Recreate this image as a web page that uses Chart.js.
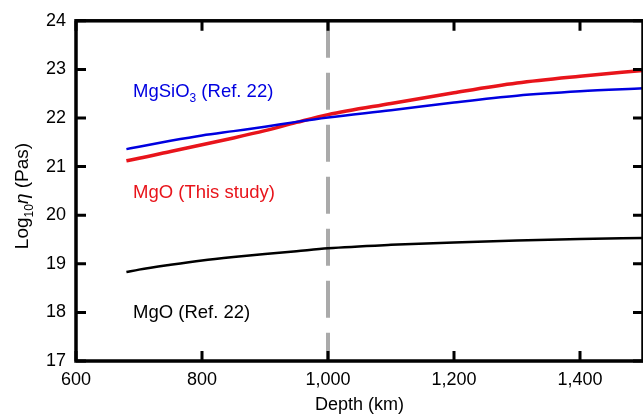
<!DOCTYPE html>
<html>
<head>
<meta charset="utf-8">
<script src="https://cdn.jsdelivr.net/npm/chart.js@4"></script>
<style>
  html, body { margin: 0; padding: 0; background: #fff; }
  canvas { display: block; }
</style>
</head>
<body>
<canvas id="chart" width="643" height="416"></canvas>
<script>
// values
const depth = [680, 700, 750, 800, 850, 900, 950, 1000, 1100, 1200, 1300, 1400, 1500];
const mgsio3Ref22 = [21.36, 21.41, 21.53, 21.64, 21.73, 21.82, 21.92, 22.01, 22.16, 22.32, 22.46, 22.55, 22.61];
const mgoThisStudy = [21.12, 21.17, 21.31, 21.45, 21.59, 21.74, 21.91, 22.07, 22.30, 22.52, 22.72, 22.86, 22.98];
const mgoRef22 = [18.83, 18.88, 18.98, 19.07, 19.14, 19.20, 19.26, 19.32, 19.39, 19.44, 19.48, 19.51, 19.53];
const xTicks = [600, 800, 1000, 1200, 1400];
const yTicks = [17, 18, 19, 20, 21, 22, 23, 24];
const markerDepth = 1000;

const FONT = '"Liberation Sans", Arial, Helvetica, sans-serif';

const toPoints = (ys) => ys.map((y, i) => ({ x: depth[i], y: y }));

// text labels placed in data units (left edge, baseline)
const notes = [
  { parts: [["MgSiO", 0], ["3", 1], [" (Ref. 22)", 0]], x: 690.5, y: 22.43, color: "#0000e0" },
  { parts: [["MgO (This study)", 0]], x: 690.5, y: 20.35, color: "#e8141b" },
  { parts: [["MgO (Ref. 22)", 0]], x: 690.5, y: 17.88, color: "#000" }
];

function partFont(sub, size) {
  if (sub === 1) return Math.round(size * 0.65) + "px " + FONT;
  if (sub === 2) return "italic " + size + "px " + FONT;
  return size + "px " + FONT;
}

function drawParts(ctx, parts, x, y, size) {
  let cx = x;
  parts.forEach(([txt, sub]) => {
    ctx.font = partFont(sub, size);
    ctx.fillText(txt, cx, sub === 1 ? y + size * 0.28 : y);
    cx += ctx.measureText(txt).width;
  });
  return cx - x;
}

function partsWidth(ctx, parts, size) {
  let w = 0;
  parts.forEach(([txt, sub]) => {
    ctx.font = partFont(sub, size);
    w += ctx.measureText(txt).width;
  });
  return w;
}

const framePlugin = {
  id: "frame",
  beforeDatasetsDraw(chart) {
    const { ctx, chartArea: a, scales } = chart;
    const px = scales.x.getPixelForValue(markerDepth);
    ctx.save();
    ctx.strokeStyle = "#aaaaaa";
    ctx.lineWidth = 4;
    ctx.setLineDash([37, 15]);
    ctx.beginPath();
    ctx.moveTo(px, a.top);
    ctx.lineTo(px, a.bottom);
    ctx.stroke();
    ctx.restore();
  },
  afterDatasetsDraw(chart) {
    const { ctx, chartArea: a, scales } = chart;
    ctx.save();
    ctx.strokeStyle = "#000";
    ctx.lineWidth = 3.5;
    ctx.strokeRect(a.left, a.top, a.right - a.left, a.bottom - a.top);
    ctx.lineWidth = 3;
    ctx.beginPath();
    scales.x.ticks.forEach(t => {
      const p = scales.x.getPixelForValue(t.value);
      ctx.moveTo(p, a.bottom); ctx.lineTo(p, a.bottom - 10);
      ctx.moveTo(p, a.top); ctx.lineTo(p, a.top + 10);
    });
    scales.y.ticks.forEach(t => {
      const p = scales.y.getPixelForValue(t.value);
      ctx.moveTo(a.left, p); ctx.lineTo(a.left + 10, p);
      ctx.moveTo(a.right, p); ctx.lineTo(a.right - 10, p);
    });
    ctx.stroke();

    // annotations
    ctx.textBaseline = "alphabetic";
    ctx.textAlign = "left";
    notes.forEach(n => {
      ctx.fillStyle = n.color;
      drawParts(ctx, n.parts, scales.x.getPixelForValue(n.x), scales.y.getPixelForValue(n.y), 18.5);
    });

    // y axis title: Log10 eta (Pas)
    const yParts = [["Log", 0], ["10", 1], ["η", 2], [" (Pas)", 0]];
    ctx.fillStyle = "#000";
    const w = partsWidth(ctx, yParts, 19);
    ctx.translate(28, 196);
    ctx.rotate(-Math.PI / 2);
    drawParts(ctx, yParts, -w / 2, 0, 19);
    ctx.restore();
  }
};

new Chart(document.getElementById("chart"), {
  type: "line",
  data: {
    datasets: [
      { label: "MgSiO3 (Ref. 22)", data: toPoints(mgsio3Ref22), borderColor: "#0000e0", borderWidth: 2.5 },
      { label: "MgO (This study)", data: toPoints(mgoThisStudy), borderColor: "#e8141b", borderWidth: 3.5 },
      { label: "MgO (Ref. 22)", data: toPoints(mgoRef22), borderColor: "#000", borderWidth: 2.5 }
    ]
  },
  options: {
    responsive: false,
    animation: false,
    devicePixelRatio: 1,
    layout: { padding: { top: 20, right: 0, left: 0, bottom: 0 } },
    elements: {
      point: { radius: 0 },
      line: { cubicInterpolationMode: "monotone", fill: false }
    },
    plugins: { legend: { display: false }, tooltip: { enabled: false } },
    scales: {
      x: {
        type: "linear",
        min: 600,
        max: 1500,
        afterBuildTicks: s => { s.ticks = xTicks.map(v => ({ value: v })); },
        afterFit: s => { s.height = 55; },
        grid: { display: false, drawTicks: false },
        border: { display: false },
        ticks: {
          color: "#000",
          padding: 8,
          maxRotation: 0,
          font: { family: FONT, size: 18 },
          callback: v => v.toLocaleString("en-US")
        },
        title: {
          display: true,
          text: "Depth (km)",
          color: "#000",
          padding: { top: 0, bottom: 0 },
          font: { family: FONT, size: 18 }
        }
      },
      y: {
        type: "linear",
        min: 17,
        max: 24,
        afterBuildTicks: s => { s.ticks = yTicks.map(v => ({ value: v })); },
        afterFit: s => { s.width = 76; },
        grid: { display: false, drawTicks: false },
        border: { display: false },
        ticks: {
          color: "#000",
          padding: 10,
          font: { family: FONT, size: 18 }
        }
      }
    }
  },
  plugins: [framePlugin]
});
</script>
</body>
</html>
